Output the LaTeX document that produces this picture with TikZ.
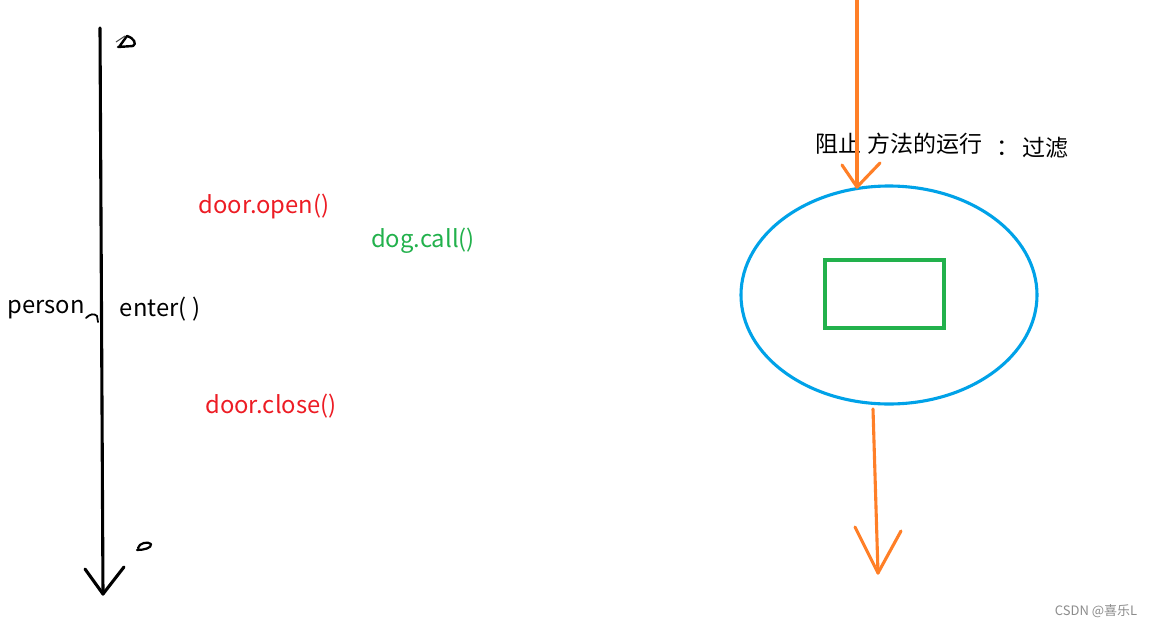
\documentclass[tikz,border=0pt]{standalone}
\usepackage{fontspec}
\setmainfont{Noto Sans CJK SC}
\begin{document}
\begin{tikzpicture}[x=1pt,y=-1pt,
  txt/.style={inner sep=0pt,anchor=center,font=\fontsize{23.8}{26}\selectfont},
  cjk/.style={inner sep=0pt,anchor=west,font=\fontsize{23}{26}\selectfont},
  red/.style={text={rgb,255:red,237;green,28;blue,36}},
  grn/.style={text={rgb,255:red,34;green,177;blue,76}},
  pen/.style={line width=3.1pt,line cap=round,line join=round},
  orangepen/.style={pen,draw={rgb,255:red,255;green,127;blue,39}},
  blackpen/.style={pen,draw=black}]
\useasboundingbox[fill=white] (0,0) rectangle (1149,627);
% left timeline
\coordinate (ltop) at (100,28);
\coordinate (lbot) at (103,594);
\draw[blackpen] (ltop) -- (lbot);
\coordinate (la1) at (85,569);
\coordinate (la2) at (124,567);
\draw[blackpen] (la1) -- (lbot) -- (la2);
% scribble marks
\draw[black,line width=2.4pt,line cap=round,line join=round]
  (119,47) -- (127,36) .. controls (134,38) and (137,44) .. (133,46) -- (118,47);
\draw[black!70,line width=1pt] (116,42) -- (125,36);
\draw[black,line width=2.2pt,line cap=round,line join=round]
  (138,548) .. controls (139,543) and (148,541) .. (151,544) .. controls (152,548) and (144,550) .. (137,550);
% person tilde
\draw[black,line width=1.8pt,line cap=round] (86,318) .. controls (90,314) and (94,313) .. (97,316) -- (98,322);
% texts
\node[txt] (person) at (46,310) {person};
\node[txt] (enter) at (160,309) {enter( )};
\node[txt,red] (open) at (264,206) {door.open()};
\node[txt,grn] (dog) at (423,241) {dog.call()};
\node[txt,red] (close) at (271,406) {door.close()};
% right side
\node[cjk] (zz1) at (815,144) {阻止};
\node[cjk] (zz2) at (867,144) {方法的运行};
\node[cjk] (zz3) at (996,148) {：};
\node[cjk] (zz4) at (1022,148) {过滤};
\draw[line width=3.1pt,draw={rgb,255:red,0;green,162;blue,232}] (889,295) ellipse [x radius=148,y radius=109];
\node[draw={rgb,255:red,34;green,177;blue,76},line width=3.1pt,minimum width=119pt,minimum height=68pt,inner sep=0pt] (box) at (884.5,294) {};
\coordinate (t0) at (857,0);
\coordinate (t1) at (857,187);
\draw[orangepen] (t0) -- (t1);
\coordinate (ta1) at (842,165);
\coordinate (ta2) at (880,163);
\draw[orangepen] (ta1) -- (t1) -- (ta2);
\coordinate (b0) at (873,409);
\coordinate (b1) at (878,573);
\draw[orangepen] (b0) -- (b1);
\coordinate (ba1) at (855,527);
\coordinate (ba2) at (901,531);
\draw[orangepen] (ba1) -- (b1) -- (ba2);
\node[inner sep=0pt,anchor=center,text=black!45,font=\fontsize{13}{15}\selectfont] (wm) at (1096,611) {CSDN @喜乐L};
\end{tikzpicture}
\end{document}
